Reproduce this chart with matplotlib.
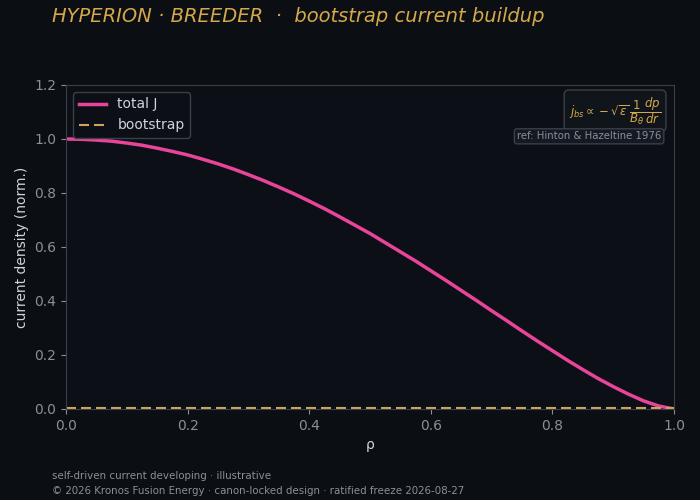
import matplotlib
matplotlib.use("Agg")
import matplotlib.pyplot as plt

# normalised radius and current profiles
rho = [0.0, 0.025, 0.05, 0.075, 0.10, 0.125, 0.15, 0.175, 0.20, 0.225, 0.25,
       0.275, 0.30, 0.325, 0.35, 0.375, 0.40, 0.425, 0.45, 0.475, 0.50,
       0.525, 0.55, 0.575, 0.60, 0.625, 0.65, 0.675, 0.70, 0.725, 0.75,
       0.775, 0.80, 0.825, 0.85, 0.875, 0.90, 0.925, 0.95, 0.975, 1.0]
total_j = [1.000, 0.999, 0.996, 0.992, 0.985, 0.977, 0.966, 0.954, 0.941, 0.925, 0.908,
           0.889, 0.868, 0.846, 0.822, 0.797, 0.770, 0.742, 0.712, 0.681, 0.650,
           0.616, 0.582, 0.548, 0.512, 0.476, 0.439, 0.402, 0.364, 0.327, 0.289,
           0.252, 0.216, 0.180, 0.146, 0.113, 0.083, 0.055, 0.030, 0.011, 0.0]
bootstrap = [0.003] * len(rho)

bg = "#0b0e13"
ax_bg = "#0c0f16"
gold = "#d4a84b"
pink = "#e8459a"
grey = "#8a9099"
spine = "#3a3f48"

fig = plt.figure(figsize=(7, 5), dpi=100, facecolor=bg)
ax = fig.add_axes([0.0943, 0.182, 0.8686, 0.648], facecolor=ax_bg)

ax.plot(rho, total_j, color=pink, lw=2.5, label="total J")
ax.plot(rho, bootstrap, color="#cfa55a", lw=1.5, ls=(0, (4.8, 2.4)), label="bootstrap")

ax.set_xlim(0, 1)
ax.set_ylim(0, 1.2)
ax.set_xticks([0, 0.2, 0.4, 0.6, 0.8, 1.0])
ax.set_yticks([0, 0.2, 0.4, 0.6, 0.8, 1.0, 1.2])
ax.tick_params(colors=grey, labelsize=10)
for s in ax.spines.values():
    s.set_color(spine)
ax.set_xlabel("ρ", color="#d0d4da", fontsize=10)
ax.set_ylabel("current density (norm.)", color="#d0d4da", fontsize=10)

leg = ax.legend(loc="upper left", fontsize=10, facecolor=ax_bg, edgecolor=spine,
                labelcolor="#d0d4da", framealpha=1)

ax.text(0.979, 0.97, r"$j_{bs} \propto -\sqrt{\epsilon}\,\dfrac{1}{B_\theta}\dfrac{dp}{dr}$",
        transform=ax.transAxes, ha="right", va="top", color=gold, fontsize=8.5,
        bbox=dict(boxstyle="round,pad=0.4", facecolor="#10141b", edgecolor=spine))
ax.text(0.979, 0.857, "ref: Hinton & Hazeltine 1976", transform=ax.transAxes,
        ha="right", va="top", color=grey, fontsize=7.3,
        bbox=dict(boxstyle="round,pad=0.25", facecolor="#141922", edgecolor=spine))

fig.text(0.074, 0.968, "HYPERION · BREEDER  ·  bootstrap current buildup",
         color=gold, fontsize=14, style="italic", ha="left", va="center")
fig.text(0.074, 0.048, "self-driven current developing · illustrative",
         color=grey, fontsize=7.4, ha="left", va="center")
fig.text(0.074, 0.018, "© 2026 Kronos Fusion Energy · canon-locked design · ratified freeze 2026-08-27",
         color=grey, fontsize=7.4, ha="left", va="center")

fig.savefig("out.png", dpi=100, facecolor=bg)
